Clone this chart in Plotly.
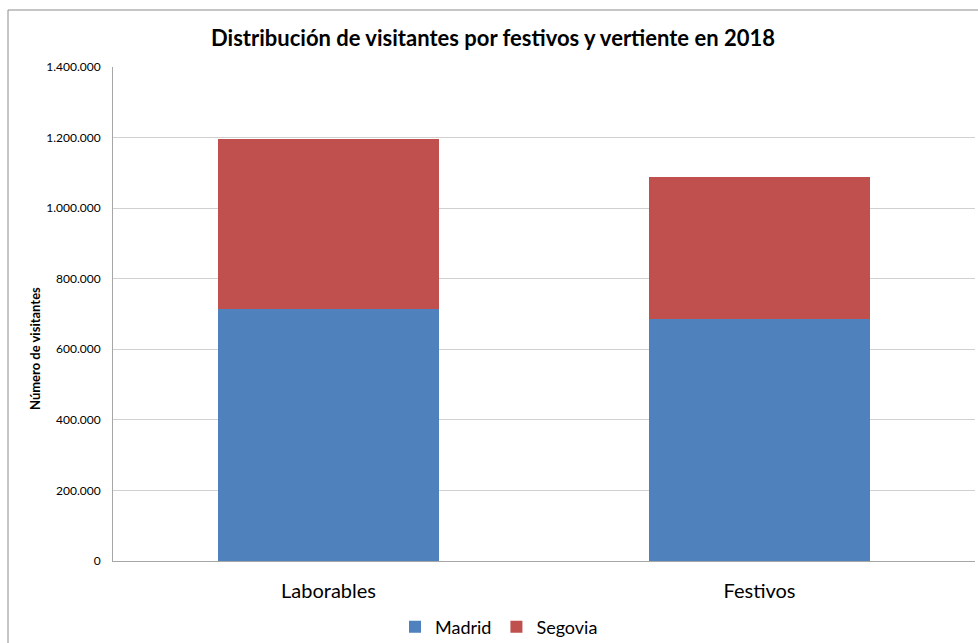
import plotly.graph_objects as go

# Visitors by day type and side of the mountain range, 2018
categorias = ["Laborables", "Festivos"]
madrid = [714000, 686000]
segovia = [481500, 403500]  # stacked on top of Madrid
series_nombres = ["Madrid", "Segovia"]
colores = ["#4F81BD", "#C0504D"]
y_ticks = [0, 200000, 400000, 600000, 800000, 1000000, 1200000, 1400000]

FONT = "Lato"

fig = go.Figure()
for nombre, valores, color in zip(series_nombres, [madrid, segovia], colores):
    fig.add_trace(go.Bar(
        name=nombre, x=categorias, y=valores,
        marker=dict(color=color, line=dict(width=0)),
    ))

W, H = 978, 643
L, R, T, B = 113, 3, 67, 82
pw, ph = W - L - R, H - T - B

def px_x(p):
    return (p - L) / pw

def px_y(p):
    return (H - B - p) / ph

fig.update_layout(
    width=W, height=H,
    barmode="stack", bargap=0.486,
    separators=",.",
    paper_bgcolor="white", plot_bgcolor="white",
    margin=dict(l=L, r=R, t=T, b=B, pad=0, autoexpand=False),
    font=dict(family=FONT, color="#000000"),
    title=dict(
        text="<b>Distribución de visitantes por festivos y vertiente en 2018</b>",
        x=px_x(493), xref="paper", xanchor="center",
        y=1 - 38 / H, yanchor="middle",
        font=dict(size=22, family=FONT, color="#000000"),
    ),
    xaxis=dict(
        showgrid=False, showline=True, linecolor="#a6a6a6", linewidth=1,
        tickfont=dict(size=20, family=FONT, color="#000000"),
        ticks="", ticklabelstandoff=12,
    ),
    yaxis=dict(
        range=[0, 1400000], tickvals=y_ticks, tickformat=",d",
        showgrid=True, gridcolor="#d0d0d0", gridwidth=1,
        showline=True, linecolor="#a6a6a6", linewidth=1,
        zeroline=False,
        tickfont=dict(size=12, family=FONT, color="#000000"),
        ticks="", ticklabelstandoff=9,
    ),
    legend=dict(
        orientation="h", x=px_x(499), xanchor="center",
        yref="container", y=1 - 627 / H, yanchor="middle",
        font=dict(size=18, family=FONT, color="#000000"),
        itemwidth=30, traceorder="normal",
        bgcolor="rgba(0,0,0,0)",
    ),
    showlegend=True,
)

# Axis title placed beside the tick labels
fig.add_annotation(
    text="<b>Número de visitantes</b>", textangle=-90,
    xref="paper", yref="paper", x=px_x(35), y=px_y(349),
    xanchor="center", yanchor="middle", showarrow=False,
    font=dict(size=13, family=FONT, color="#000000"),
)

# Chart frame
fig.add_shape(
    type="rect", xref="paper", yref="paper",
    x0=px_x(8), x1=px_x(W + 20), y0=px_y(10), y1=px_y(H + 20),
    line=dict(color="#8c8c8c", width=1), fillcolor="rgba(0,0,0,0)",
    layer="below",
)

fig.write_html("out.html")
